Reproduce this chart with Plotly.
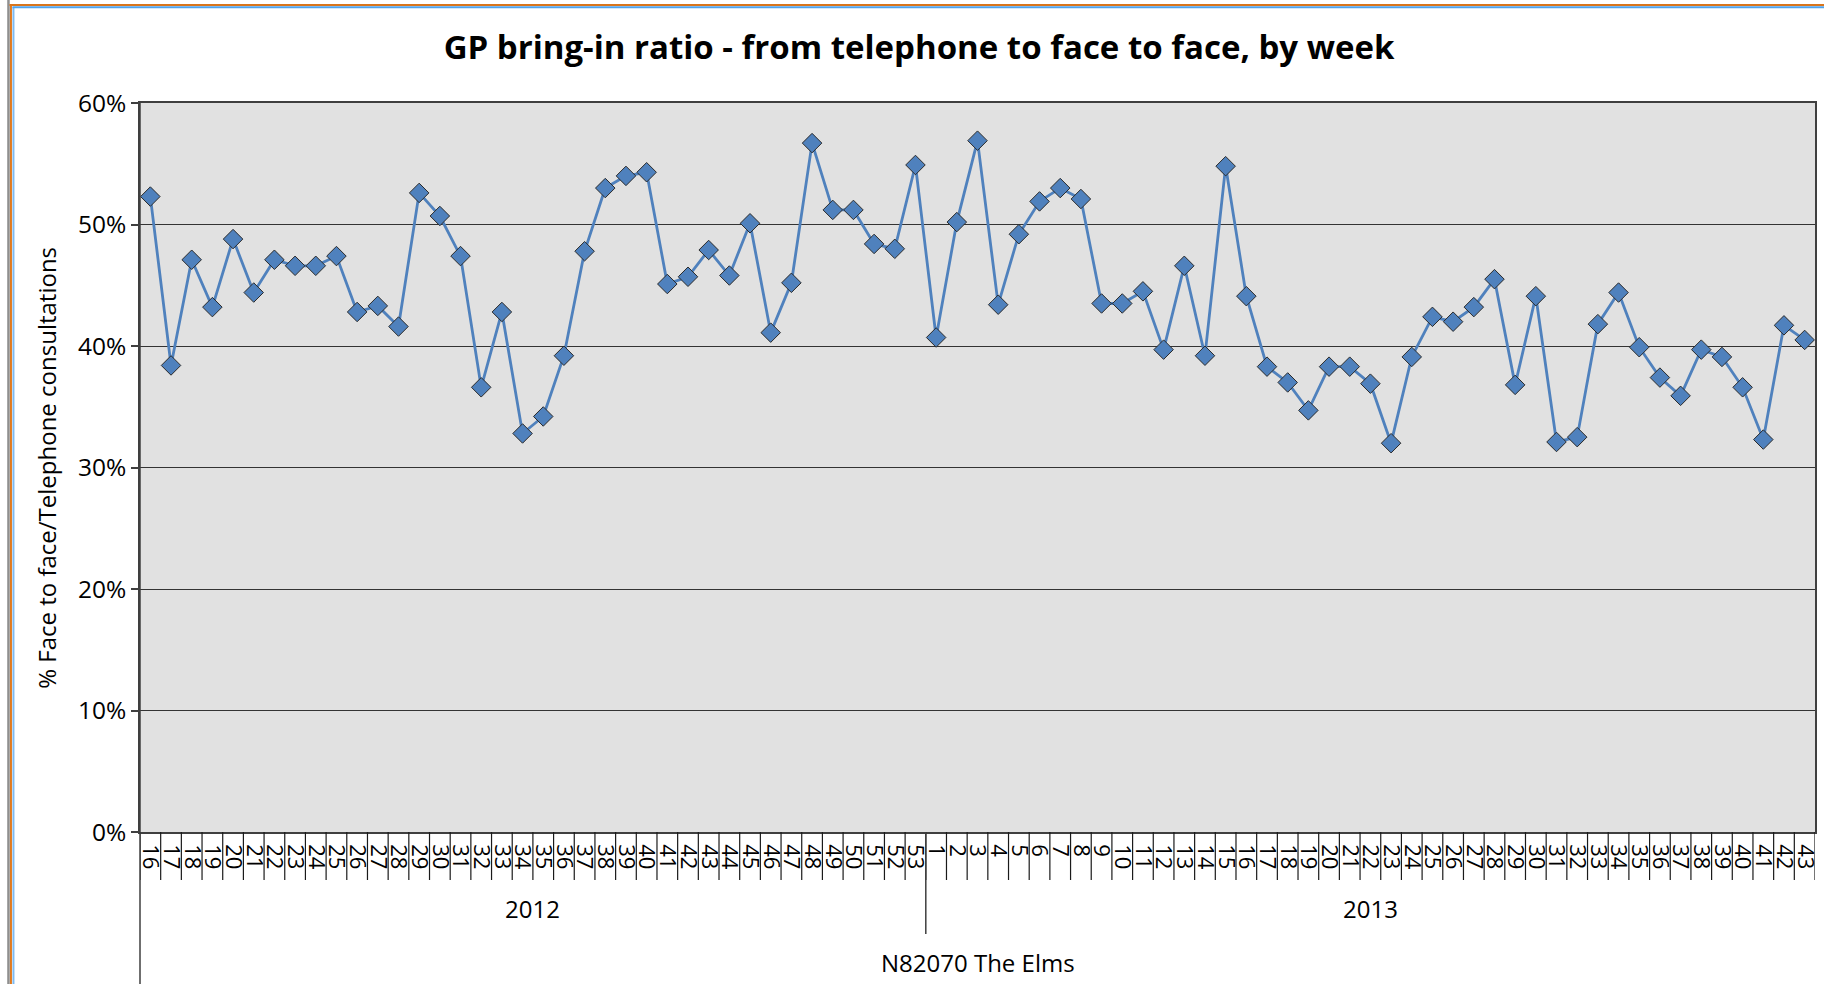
import plotly.graph_objects as go

title_text = "GP bring-in ratio - from telephone to face to face, by week"
y_title = "% Face to face/Telephone consultations"
practice = "N82070 The Elms"
years = ["2012", "2013"]

weeks_2012 = [16, 17, 18, 19, 20, 21, 22, 23, 24, 25, 26, 27, 28, 29, 30, 31, 32, 33, 34,
              35, 36, 37, 38, 39, 40, 41, 42, 43, 44, 45, 46, 47, 48, 49, 50, 51, 52, 53]
values_2012 = [52.3, 38.4, 47.1, 43.2, 48.8, 44.4, 47.1, 46.6, 46.6, 47.4, 42.8, 43.3, 41.6,
               52.6, 50.7, 47.4, 36.6, 42.8, 32.8, 34.2, 39.2, 47.8, 53.0, 54.0, 54.3, 45.1,
               45.7, 47.9, 45.8, 50.1, 41.1, 45.2, 56.7, 51.2, 51.2, 48.4, 48.0, 54.9]

weeks_2013 = [1, 2, 3, 4, 5, 6, 7, 8, 9, 10, 11, 12, 13, 14, 15, 16, 17, 18, 19, 20, 21, 22,
              23, 24, 25, 26, 27, 28, 29, 30, 31, 32, 33, 34, 35, 36, 37, 38, 39, 40, 41, 42, 43]
values_2013 = [40.7, 50.2, 56.9, 43.4, 49.2, 51.9, 53.0, 52.1, 43.5, 43.5, 44.5, 39.7, 46.6,
               39.2, 54.8, 44.1, 38.3, 37.0, 34.7, 38.3, 38.3, 36.9, 32.0, 39.1, 42.4, 42.0,
               43.2, 45.5, 36.8, 44.1, 32.1, 32.5, 41.8, 44.4, 39.9, 37.4, 35.9, 39.7, 39.1,
               36.6, 32.3, 41.7, 40.5]

y_ticks = [0, 10, 20, 30, 40, 50, 60]

weeks = weeks_2012 + weeks_2013
values = values_2012 + values_2013
n = len(weeks)
xs = list(range(n))

FONT = "Open Sans"
LINE_C = "#4F81BD"
AX_C = "#3f3f3f"

# pixel geometry of the plot area
W, H = 1824, 984
ML, MR, MT, MB = 140, 3, 103, 152
PW = W - ML - MR
PH = H - MT - MB


def px_x(p):
    return (p - ML) / PW


def px_y(p):
    return (H - MB - p) / PH


fig = go.Figure()
fig.add_trace(go.Scatter(
    x=xs, y=values, mode="lines+markers",
    line=dict(color=LINE_C, width=2.8),
    marker=dict(symbol="diamond", size=15, color=LINE_C,
                line=dict(color="#2b2b2b", width=1)),
    showlegend=False, hoverinfo="y", cliponaxis=False,
))

shapes = []
# week dividers below the axis
for b in range(n + 1):
    shapes.append(dict(type="line", xref="x", yref="paper",
                       x0=b - 0.5, x1=b - 0.5, y0=0, y1=-48 / PH,
                       line=dict(color="#1a1a1a", width=1.2)))
# year divider
split = len(weeks_2012) - 0.5
shapes.append(dict(type="line", xref="x", yref="paper", x0=split, x1=split,
                   y0=0, y1=-102 / PH, line=dict(color=AX_C, width=1.5)))
# left axis extending to bottom
shapes.append(dict(type="line", xref="paper", yref="paper", x0=0, x1=0,
                   y0=1, y1=px_y(H + 10), line=dict(color=AX_C, width=1.5)))
# chart frame decoration (screenshot selection border)
shapes.append(dict(type="line", xref="paper", yref="paper",
                   x0=px_x(8), x1=px_x(8), y0=px_y(0), y1=px_y(H + 10),
                   line=dict(color="#8f8f8f", width=2.5)))
shapes.append(dict(type="line", xref="paper", yref="paper",
                   x0=px_x(10.5), x1=px_x(10.5), y0=px_y(4), y1=px_y(H + 10),
                   line=dict(color="#E07A1F", width=2)))
shapes.append(dict(type="line", xref="paper", yref="paper",
                   x0=px_x(13), x1=px_x(13), y0=px_y(7), y1=px_y(H + 10),
                   line=dict(color="#7DBAF2", width=2)))
shapes.append(dict(type="line", xref="paper", yref="paper",
                   x0=px_x(9), x1=px_x(W + 10), y0=px_y(5), y1=px_y(5),
                   line=dict(color="#D9751C", width=2)))
shapes.append(dict(type="line", xref="paper", yref="paper",
                   x0=px_x(12), x1=px_x(W + 10), y0=px_y(7.3), y1=px_y(7.3),
                   line=dict(color="#4FA3EE", width=2)))

annotations = [
    dict(text=years[0], xref="x", yref="paper",
         x=(len(weeks_2012) - 1) / 2, y=px_y(908), showarrow=False,
         xanchor="center", yanchor="middle",
         font=dict(family=FONT, size=24, color="#000")),
    dict(text=years[1], xref="x", yref="paper",
         x=len(weeks_2012) + (len(weeks_2013) - 1) / 2, y=px_y(908), showarrow=False,
         xanchor="center", yanchor="middle",
         font=dict(family=FONT, size=24, color="#000")),
    dict(text=practice, xref="paper", yref="paper", x=0.5, y=px_y(962),
         showarrow=False, xanchor="center", yanchor="middle",
         font=dict(family=FONT, size=24, color="#000")),
    dict(text=y_title, xref="paper", yref="paper", x=px_x(46), y=0.5,
         textangle=-90, showarrow=False, xanchor="center", yanchor="middle",
         font=dict(family=FONT, size=24, color="#000")),
]

fig.update_layout(
    width=W, height=H,
    margin=dict(l=ML, r=MR, t=MT, b=MB),
    paper_bgcolor="white", plot_bgcolor="#E1E1E1",
    title=dict(text="<b>" + title_text + "</b>", xref="container", yref="container",
               x=919 / W, y=1 - 47 / H, xanchor="center", yanchor="middle",
               font=dict(family=FONT, size=33, color="#000")),
    font=dict(family=FONT, size=23, color="#000"),
    shapes=shapes, annotations=annotations,
)
fig.update_xaxes(
    range=[-0.5, n - 0.5], tickmode="array", tickvals=xs,
    ticktext=[str(w) for w in weeks], tickangle=90, ticks="",
    ticklabelstandoff=6, ticklabeloverflow="allow",
    tickfont=dict(family=FONT, size=22, color="#000"),
    showgrid=False, zeroline=False, showline=True, linecolor=AX_C, linewidth=1.5,
    mirror=True,
)
fig.update_yaxes(
    range=[0, 60], tickmode="array", tickvals=y_ticks,
    ticktext=[f"{v}%" for v in y_ticks], ticks="outside", ticklen=7,
    tickcolor=AX_C, tickwidth=1.5,
    tickfont=dict(family=FONT, size=24.5, color="#000"),
    showgrid=True, gridcolor="#333333", gridwidth=1.3, zeroline=False,
    showline=True, linecolor=AX_C, linewidth=1.5, mirror=True,
)

fig.write_html(
    "out.html",
    config={"displayModeBar": False},
    post_script="document.body.style.margin='0';document.body.style.overflow='hidden';",
)
